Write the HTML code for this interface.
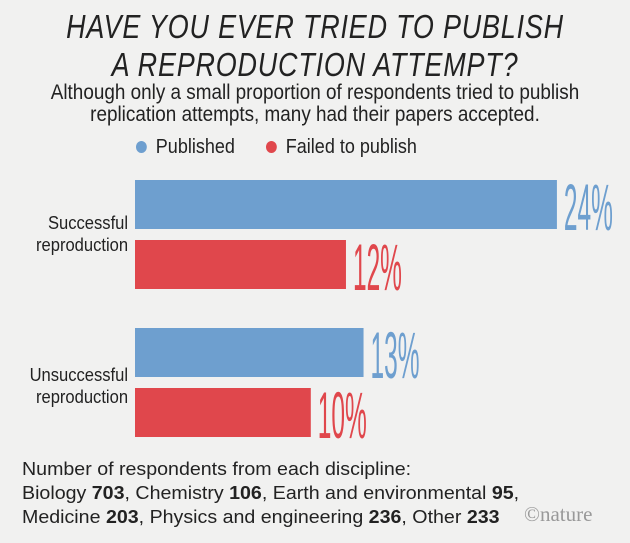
<!DOCTYPE html>
<html><head><meta charset="utf-8"><style>
body{margin:0;background:#f1f1f0;}
#c{position:relative;width:630px;height:543px;overflow:hidden;background:#f1f1f0;font-family:"Liberation Sans",sans-serif;color:#222;}
.t{position:absolute;white-space:nowrap;}
</style></head><body>
<div id="c">
<div class="t" style="left:0;width:630px;text-align:center;top:8px;font-size:33px;font-style:italic;line-height:38px;letter-spacing:1px;color:#222;transform:scaleX(0.816);transform-origin:315px 0;">HAVE YOU EVER TRIED TO PUBLISH<br>A REPRODUCTION ATTEMPT?</div>
<div class="t" style="left:0;width:630px;text-align:center;top:82px;font-size:21px;line-height:22px;transform:scaleX(0.9);transform-origin:315px 0;">Although only a small proportion of respondents tried to publish<br>replication attempts, many had their papers accepted.</div>
<div class="t" style="left:136px;top:136px;font-size:20px;transform:scaleX(0.9);transform-origin:0 0;"><span style="display:inline-block;width:12px;height:12px;border-radius:50%;background:#6e9fcf;margin-right:10px;"></span>Published</div>
<div class="t" style="left:266px;top:136px;font-size:20px;transform:scaleX(0.9);transform-origin:0 0;"><span style="display:inline-block;width:12px;height:12px;border-radius:50%;background:#e0474c;margin-right:10px;"></span>Failed to publish</div>
<div class="t" style="right:502px;top:212px;text-align:right;font-size:18px;line-height:22px;transform:scaleX(0.92);transform-origin:100% 0;">Successful<br>reproduction</div>
<div class="t" style="right:502px;top:364px;text-align:right;font-size:18px;line-height:22px;transform:scaleX(0.92);transform-origin:100% 0;">Unsuccessful<br>reproduction</div>
<svg id="svg" width="630" height="543" style="position:absolute;left:0;top:0;"></svg>
<div class="t" style="left:22px;top:457px;font-size:18.5px;line-height:24px;transform:scaleX(1.06);transform-origin:0 0;">Number of respondents from each discipline:<br>Biology <b>703</b>, Chemistry <b>106</b>, Earth and environmental <b>95</b>,<br>Medicine <b>203</b>, Physics and engineering <b>236</b>, Other <b>233</b></div>
<div class="t" style="left:524px;top:502px;font-family:'Liberation Serif',serif;font-size:21px;color:#999;">©nature</div>
</div>
<script>
const categories=["Successful reproduction","Unsuccessful reproduction"];
const published=[24,13];
const failed=[12,10];
const svg=document.getElementById('svg');
const NS='http://www.w3.org/2000/svg';
const x0=135, scale=17.58;
function xs(v){return x0+v*scale;}
const groupTop=[180,328];
function bar(v,y,color,name){
  const r=document.createElementNS(NS,'rect');
  r.setAttribute('x',x0);r.setAttribute('y',y);
  r.setAttribute('width',xs(v)-x0);r.setAttribute('height',49);
  r.setAttribute('fill',color);
  
  
  svg.appendChild(r);
  const t=document.createElementNS(NS,'text');
  t.setAttribute('x',xs(v)+7);t.setAttribute('y',y+50);
  t.setAttribute('fill',color);
  t.setAttribute('font-family','"Liberation Sans",sans-serif');
  t.setAttribute('font-size','66');
  t.setAttribute('textLength',49);
  t.setAttribute('lengthAdjust','spacingAndGlyphs');
  t.textContent=v+'%';
  
  
  svg.appendChild(t);
}
categories.forEach((c,i)=>{
  bar(published[i],groupTop[i],'#6e9fcf','bar-published-'+i);
  bar(failed[i],groupTop[i]+60,'#e0474c','bar-failed-'+i);
});
</script>
</body></html>
